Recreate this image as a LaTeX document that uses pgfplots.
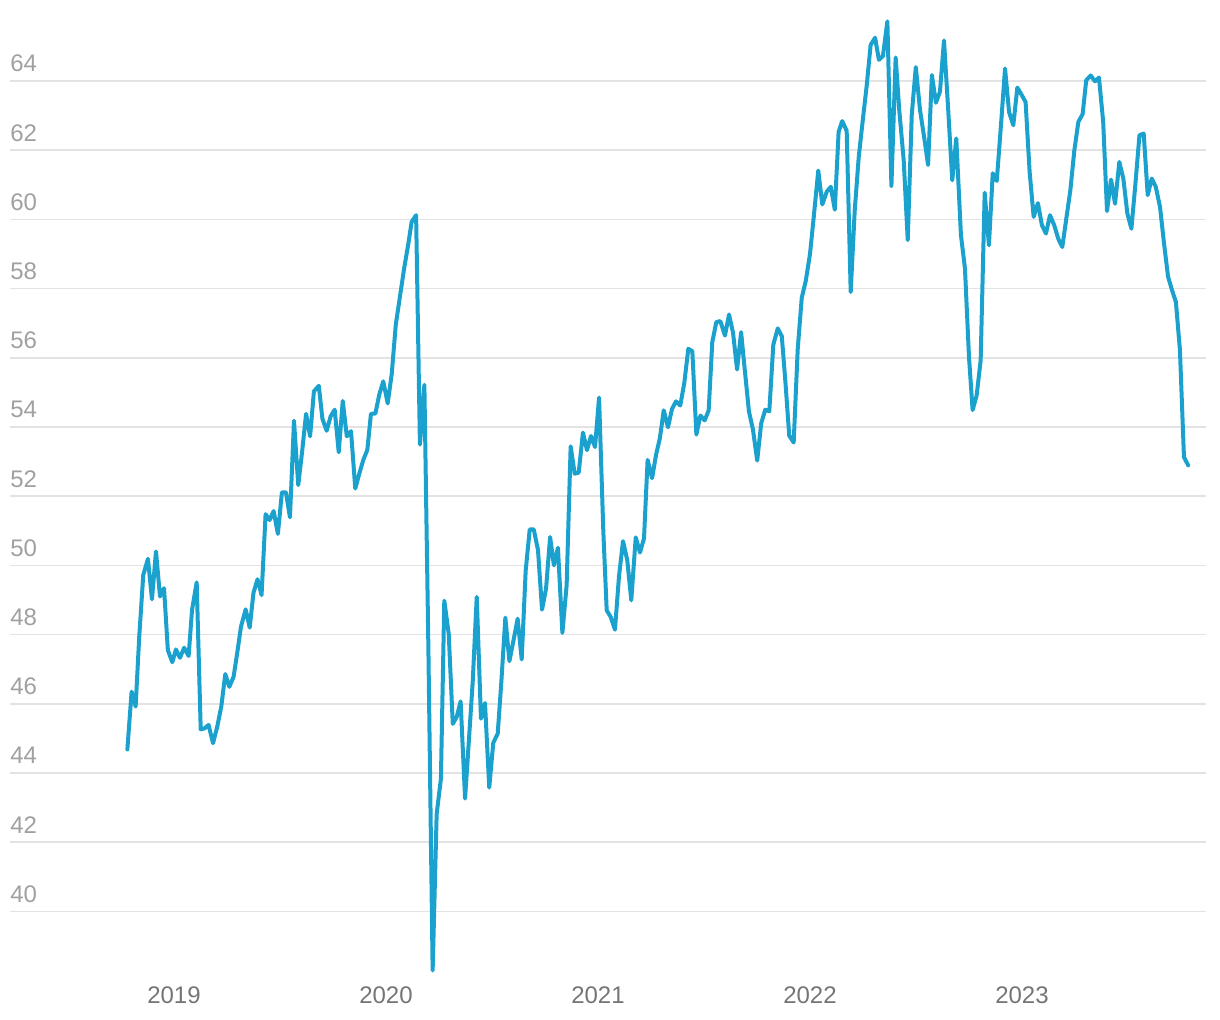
\documentclass[border=0pt]{standalone}
\usepackage{pgfplots}
\pgfplotsset{compat=1.18}
\usepackage{pgfplotstable}
\usepackage{fontspec}
\setmainfont{Liberation Sans}
\definecolor{lineBlue}{HTML}{1BA1CD}
\definecolor{gridGray}{HTML}{E3E3E3}
\definecolor{yLab}{HTML}{A0A0A0}
\definecolor{xLab}{HTML}{757575}

\pgfplotstableread{
yr v
2018.780 44.68
2018.800 46.35
2018.819 45.92
2018.836 47.94
2018.855 49.72
2018.877 50.19
2018.896 49.02
2018.915 50.40
2018.934 49.10
2018.953 49.34
2018.971 47.55
2018.992 47.20
2019.009 47.57
2019.028 47.33
2019.048 47.62
2019.069 47.38
2019.085 48.71
2019.107 49.51
2019.126 45.26
2019.144 45.29
2019.163 45.39
2019.184 44.86
2019.204 45.34
2019.223 45.92
2019.242 46.86
2019.261 46.49
2019.281 46.78
2019.298 47.46
2019.316 48.23
2019.338 48.73
2019.357 48.20
2019.375 49.21
2019.394 49.60
2019.413 49.14
2019.432 51.48
2019.451 51.31
2019.470 51.57
2019.490 50.91
2019.509 52.11
2019.528 52.11
2019.547 51.39
2019.566 54.18
2019.586 52.32
2019.604 53.27
2019.623 54.38
2019.642 53.73
2019.660 55.03
2019.683 55.19
2019.700 54.24
2019.720 53.89
2019.739 54.31
2019.758 54.50
2019.777 53.27
2019.796 54.75
2019.815 53.73
2019.835 53.88
2019.855 52.22
2019.874 52.65
2019.893 53.05
2019.912 53.34
2019.929 54.38
2019.950 54.39
2019.968 54.93
2019.987 55.32
2020.008 54.68
2020.027 55.53
2020.046 56.95
2020.066 57.78
2020.086 58.60
2020.105 59.28
2020.121 59.93
2020.142 60.12
2020.160 53.49
2020.181 55.22
2020.200 47.58
2020.220 38.29
2020.239 42.82
2020.259 43.83
2020.275 48.98
2020.296 48.01
2020.315 45.42
2020.334 45.63
2020.352 46.07
2020.373 43.26
2020.392 45.04
2020.409 46.63
2020.428 49.09
2020.448 45.57
2020.467 46.02
2020.487 43.58
2020.506 44.87
2020.527 45.14
2020.544 46.63
2020.563 48.49
2020.582 47.23
2020.602 47.85
2020.621 48.46
2020.640 47.28
2020.659 49.86
2020.678 51.04
2020.697 51.04
2020.717 50.44
2020.736 48.72
2020.755 49.33
2020.774 50.82
2020.792 50.00
2020.811 50.51
2020.832 48.05
2020.852 49.42
2020.871 53.44
2020.890 52.65
2020.909 52.68
2020.929 53.84
2020.948 53.33
2020.967 53.74
2020.986 53.42
2021.005 54.85
2021.025 51.00
2021.041 48.70
2021.060 48.51
2021.080 48.14
2021.099 49.68
2021.118 50.70
2021.138 50.15
2021.157 48.99
2021.178 50.81
2021.198 50.37
2021.217 50.78
2021.234 53.05
2021.255 52.52
2021.274 53.20
2021.292 53.68
2021.310 54.48
2021.330 53.99
2021.349 54.52
2021.368 54.74
2021.388 54.62
2021.407 55.27
2021.426 56.26
2021.445 56.19
2021.464 53.78
2021.483 54.33
2021.503 54.19
2021.522 54.48
2021.539 56.45
2021.558 57.03
2021.577 57.06
2021.599 56.64
2021.618 57.25
2021.637 56.72
2021.656 55.66
2021.675 56.74
2021.693 55.61
2021.712 54.45
2021.731 53.92
2021.751 53.03
2021.770 54.11
2021.789 54.50
2021.808 54.45
2021.827 56.38
2021.848 56.85
2021.867 56.62
2021.885 55.22
2021.902 53.75
2021.923 53.55
2021.942 56.24
2021.961 57.73
2021.980 58.22
2022.000 59.00
2022.019 60.15
2022.039 61.41
2022.058 60.43
2022.079 60.80
2022.098 60.94
2022.117 60.28
2022.135 62.53
2022.152 62.84
2022.173 62.56
2022.192 57.90
2022.211 60.26
2022.230 61.81
2022.249 62.87
2022.267 63.84
2022.286 65.04
2022.307 65.25
2022.325 64.61
2022.344 64.72
2022.365 65.72
2022.384 60.96
2022.404 64.68
2022.421 63.16
2022.442 61.71
2022.461 59.40
2022.480 63.02
2022.499 64.40
2022.519 63.16
2022.538 62.39
2022.557 61.57
2022.575 64.17
2022.594 63.37
2022.613 63.69
2022.632 65.17
2022.652 63.16
2022.671 61.13
2022.690 62.34
2022.712 59.54
2022.731 58.58
2022.750 56.02
2022.767 54.49
2022.786 54.91
2022.805 55.92
2022.824 60.77
2022.844 59.25
2022.862 61.33
2022.881 61.11
2022.902 62.82
2022.920 64.36
2022.939 63.10
2022.959 62.72
2022.978 63.81
2022.999 63.59
2023.017 63.39
2023.036 61.37
2023.055 60.07
2023.075 60.47
2023.094 59.83
2023.113 59.59
2023.132 60.12
2023.152 59.83
2023.171 59.44
2023.190 59.20
2023.209 60.02
2023.228 60.84
2023.247 62.00
2023.266 62.82
2023.286 63.04
2023.303 64.02
2023.324 64.16
2023.344 63.99
2023.363 64.10
2023.383 62.82
2023.401 60.24
2023.420 61.15
2023.439 60.45
2023.459 61.66
2023.478 61.18
2023.497 60.17
2023.516 59.73
2023.535 61.03
2023.554 62.43
2023.574 62.48
2023.593 60.70
2023.612 61.18
2023.631 60.94
2023.651 60.36
2023.670 59.30
2023.689 58.34
2023.708 57.95
2023.726 57.61
2023.745 56.22
2023.764 53.13
2023.784 52.89
}\weekly

\begin{document}
\begin{tikzpicture}
  \path[use as bounding box] (0,0) rectangle (610pt,-510pt);
  \begin{axis}[
    at={(5pt,0pt)}, anchor=north west,
    scale only axis,
    width=598pt, height=490.3pt,
    xmin=2018.2264, xmax=2023.868,
    ymin=38, ymax=66.34,
    axis line style={draw=none},
    major tick length=0pt,
    xtick={2019,2020,2021,2022,2023},
    xticklabels={2019,2020,2021,2022,2023},
    ytick={40,42,...,64},
    ymajorgrids=true,
    grid style={gridGray, line width=0.75pt},
    /pgf/number format/assume math mode=true,
    tick label style={font=\fontsize{12}{14}\selectfont},
    xticklabel style={text=xLab, anchor=base, yshift=-11.7pt},
    yticklabel style={text=yLab, anchor=base west, inner xsep=0pt, yshift=4.5pt},
    clip=false,
  ]
    \addplot[lineBlue, line width=2pt, line join=round, line cap=round] table[x=yr, y=v] {\weekly};
  \end{axis}
\end{tikzpicture}
\end{document}
